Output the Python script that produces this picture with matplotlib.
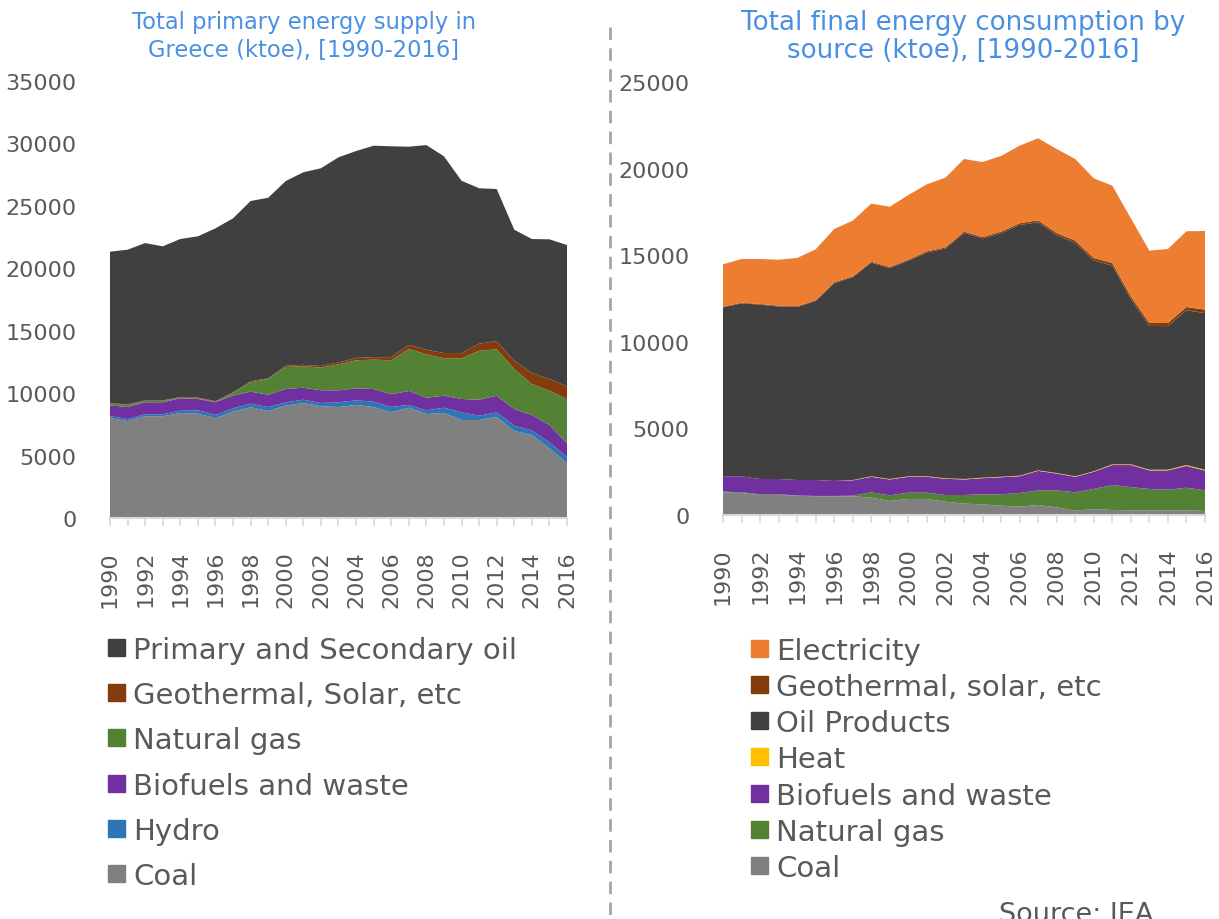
import matplotlib as mpl

mpl.use("agg")
from matplotlib import pyplot as plt
from matplotlib.lines import Line2D
from matplotlib.patches import Rectangle
from matplotlib.ticker import MultipleLocator

years = list(range(1990, 2017))

# Total primary energy supply (ktoe), bottom to top
tpes_coal = [8000, 7770, 8150, 8150, 8410, 8360, 7990, 8520, 8870, 8570, 9000, 9210, 8950, 8890,
             9050, 8890, 8470, 8840, 8330, 8410, 7850, 7850, 8090, 6970, 6650, 5580, 4400]
tpes_hydro = [160, 160, 160, 160, 185, 270, 265, 270, 290, 320, 265, 265, 265, 375,
              375, 425, 425, 215, 295, 425, 615, 345, 375, 425, 370, 485, 480]
tpes_bio = [855, 960, 960, 960, 990, 905, 1015, 1010, 960, 985, 1065, 960, 1015, 960,
            960, 1015, 1015, 1120, 1010, 960, 1065, 1280, 1330, 1335, 1230, 1385, 1120]
tpes_gas = [155, 160, 105, 105, 50, 55, 40, 215, 750, 1255, 1765, 1715, 1815, 2085,
            2245, 2350, 2725, 3365, 3475, 2995, 3260, 3925, 3715, 3205, 2480, 2745, 3525]
tpes_geo = [40, 40, 45, 45, 60, 60, 50, 50, 80, 60, 100, 120, 130, 150,
            190, 200, 250, 330, 370, 420, 420, 560, 660, 660, 880, 940, 1020]
tpes_oil = [12120, 12400, 12600, 12340, 12650, 12910, 13840, 13935, 14440, 14460, 14795, 15420,
            15835, 16430, 16570, 16940, 16885, 15870, 16390, 15760, 13800, 12450, 12180, 10495,
            10735, 11185, 11315]
tpes_labels = ["Coal", "Hydro", "Biofuels and waste", "Natural gas",
               "Geothermal, Solar, etc", "Primary and Secondary oil"]

# Total final consumption (ktoe), bottom to top
tfc_coal = [1310, 1270, 1155, 1155, 1115, 1080, 1080, 1080, 1000, 810, 925, 925, 770, 655,
            615, 540, 480, 580, 445, 250, 345, 290, 270, 270, 270, 270, 230]
tfc_gas = [40, 40, 40, 40, 10, 20, 20, 35, 310, 325, 365, 365, 385, 500,
           580, 655, 790, 845, 980, 1060, 1155, 1440, 1345, 1230, 1190, 1305, 1195]
tfc_bio = [885, 925, 885, 885, 895, 920, 865, 885, 895, 915, 915, 915, 935, 895,
           930, 985, 970, 1125, 970, 895, 995, 1155, 1270, 1075, 1115, 1260, 1140]
tfc_heat = [0, 0, 0, 0, 0, 0, 0, 20, 30, 30, 30, 30, 30, 30,
            30, 30, 30, 30, 30, 30, 30, 40, 40, 40, 40, 50, 50]
tfc_oil = [9755, 9985, 10065, 9965, 9990, 10340, 11420, 11710, 12330, 12180, 12445, 12920,
           13265, 14200, 13815, 14060, 14475, 14325, 13735, 13475, 12175, 11475, 9540, 8300,
           8290, 8935, 9040]
tfc_geo = [40, 40, 40, 40, 40, 40, 50, 50, 60, 60, 60, 70, 70, 80,
           80, 90, 100, 110, 120, 130, 140, 150, 160, 170, 180, 190, 200]
tfc_elec = [2445, 2520, 2595, 2655, 2790, 2940, 3080, 3215, 3350, 3480, 3735, 3870, 4020, 4195,
            4330, 4370, 4480, 4735, 4850, 4715, 4600, 4465, 4505, 4175, 4275, 4370, 4545]
tfc_labels = ["Coal", "Natural gas", "Biofuels and waste", "Heat", "Oil Products",
              "Geothermal, solar, etc", "Electricity"]

GRAY = "#808080"
OIL = "#404040"
GEO = "#843C0C"
GAS = "#548235"
BIO = "#7030A0"
HYDRO = "#2E75B6"
ELEC = "#ED7D31"
HEAT = "#FFC000"
TEXT = "#595959"
TITLE = "#4A90E2"

W, H = 1219, 920


def style_axis(ax, ymax):
    ax.set_xlim(1990, 2016)
    ax.set_ylim(0, ymax)
    ax.yaxis.set_major_locator(MultipleLocator(5000))
    ax.xaxis.set_major_locator(MultipleLocator(2))
    ax.xaxis.set_minor_locator(MultipleLocator(1))
    for side in ["top", "right", "left"]:
        ax.spines[side].set_visible(False)
    ax.spines["bottom"].set_color("#D9D9D9")
    ax.spines["bottom"].set_linewidth(1.5)
    ax.tick_params(axis="y", length=0, pad=24, labelsize=16, labelcolor=TEXT)
    ax.tick_params(axis="x", which="both", length=6, width=1.2, color="#D9D9D9",
                   labelsize=16, labelcolor=TEXT, labelrotation=90, pad=17)


def draw_legend(fig, x_box, y_first, dy, labels, colors, size=21):
    for i, (lab, col) in enumerate(zip(labels, colors)):
        yc = y_first + i * dy
        fig.patches.append(Rectangle((x_box / W, 1 - (yc + 8.5) / H), 17 / W, 17 / H,
                                     transform=fig.transFigure, color=col))
        fig.text((x_box + 25) / W, 1 - (yc + 10.5) / H, lab, fontsize=size,
                 color=TEXT, va="baseline", ha="left")


fig = plt.figure(figsize=(W / 100, H / 100), dpi=100, facecolor="w")

ax1 = fig.add_axes([110 / W, 1 - 519 / H, 457 / W, 437 / H])
left_colors = [GRAY, HYDRO, BIO, GAS, GEO, OIL]
ax1.stackplot(years, tpes_coal, tpes_hydro, tpes_bio, tpes_gas, tpes_geo, tpes_oil,
              colors=left_colors, labels=tpes_labels, lw=0)
style_axis(ax1, 35000)

ax2 = fig.add_axes([723 / W, 1 - 516 / H, 482 / W, 433 / H])
right_colors = [GRAY, GAS, BIO, HEAT, OIL, GEO, ELEC]
ax2.stackplot(years, tfc_coal, tfc_gas, tfc_bio, tfc_heat, tfc_oil, tfc_geo, tfc_elec,
              colors=right_colors, labels=tfc_labels, lw=0)
style_axis(ax2, 25000)

fig.text(304 / W, 1 - 11 / H, "Total primary energy supply in\nGreece (ktoe), [1990-2016]",
         ha="center", va="top", fontsize=16.3, color=TITLE, linespacing=1.25)
fig.text(963 / W, 1 - 10 / H, "Total final energy consumption by\nsource (ktoe), [1990-2016]",
         ha="center", va="top", fontsize=18.8, color=TITLE, linespacing=1.08)

draw_legend(fig, 108, 648.5, 45.2, tpes_labels[::-1], left_colors[::-1])
draw_legend(fig, 751, 649, 36.3, tfc_labels[::-1], right_colors[::-1])

fig.lines.append(Line2D([610 / W, 610 / W], [1 - 28 / H, 0], transform=fig.transFigure,
                        color="#A6A6A6", lw=2, dashes=(4.5, 3)))

fig.text(999 / W, 1 - 922 / H, "Source: IEA", fontsize=19.5, color=TEXT,
         ha="left", va="baseline")

fig.savefig("out.png", dpi=100, facecolor="w")
